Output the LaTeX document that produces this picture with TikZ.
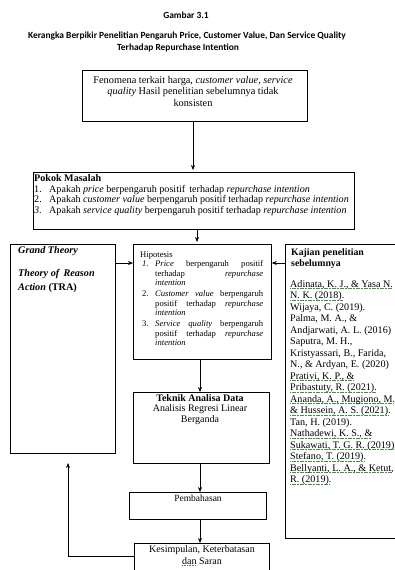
\documentclass[tikz,border=0pt]{standalone}
\usepackage{fontspec}
\setmainfont{Liberation Serif}
\newfontfamily\titlefont{Carlito}
\usetikzlibrary{arrows.meta}
\definecolor{spellgreen}{RGB}{60,150,60}
\newsavebox\gulbox
\newcommand\gul[1]{\leavevmode\sbox\gulbox{#1}\rlap{\raisebox{-1.8pt}{\hbox to \wd\gulbox{\color{spellgreen}\leaders\hbox to 1.6pt{\rule{1.1pt}{0.6pt}\hss}\hfill}}}\usebox\gulbox}
\newcommand\hipline[2]{\makebox[13pt][l]{#1}\makebox[108pt][s]{#2}}
\newcommand\pokline[2]{\makebox[15pt][l]{#1}#2}
\tikzset{
  box/.style={draw, line width=0.8pt, anchor=north west, inner sep=0pt},
  arr/.style={-{Stealth[length=5pt,width=4pt]}, line width=0.6pt},
  txt/.style={anchor=north west, inner sep=0pt, align=left, execute at begin node={\strut}},
  ttl/.style={inner sep=0pt, font=\titlefont\bfseries\fontsize{9.4}{10}\selectfont},
}
\begin{document}
\begin{tikzpicture}[x=1pt,y=-1pt]
\useasboundingbox (0,0) rectangle (395,570);
\clip (0,0) rectangle (395,570);
% titles
\node[ttl] (t1) at (186,15) {Gambar 3.1};
\node[ttl] (t2) at (187,36) {Kerangka Berpikir Penelitian Pengaruh Price, Customer Value, Dan Service Quality};
\node[ttl] (t3) at (178,48) {Terhadap Repurchase Intention};
% Fenomena box
\node[box, minimum width=225pt, minimum height=51pt] (fen) at (82,70) {};
\node[inner sep=0pt, anchor=north, align=center, font=\fontsize{10.3}{11.5}\selectfont] (fent) at (193,76)
 {Fenomena terkait harga, \textit{customer value, service}\\\textit{quality} Hasil penelitian sebelumnya tidak\\konsisten};
% Pokok Masalah
\node[box, minimum width=321pt, minimum height=57pt] (pok) at (33,172) {};
\node[txt, font=\fontsize{10.1}{10.5}\selectfont] (poki) at (34,174.6)
 {\textbf{Pokok Masalah}\\
  \pokline{1.}{Apakah \textit{price} berpengaruh positif\, terhadap \textit{repurchase intention}}\\
  \pokline{2.}{Apakah \textit{customer value} berpengaruh positif terhadap \textit{repurchase intention}}\\
  \pokline{\textit{3.}}{Apakah \textit{service quality} berpengaruh positif terhadap \textit{repurchase intention}}};
% Left box
\node[box, minimum width=105pt, minimum height=209pt] (gt) at (10,244) {};
\node[txt, font=\fontsize{10.2}{13.5}\selectfont] (gtt) at (18,246.5)
 {\textbf{\textit{Grand Theory}}\\[9.5pt]\textbf{\textit{Theory of\, Reason}}\\\textbf{\textit{Action} (TRA)}};
% Hipotesis
\node[box, minimum width=138pt, minimum height=115pt] (hip) at (133,244) {};
\node[inner sep=0pt, anchor=base west, font=\fontsize{8.6}{9}\selectfont] (hipt) at (140,257) {Hipotesis};
\node[txt, font=\fontsize{8.6}{9.5}\selectfont] (hipi) at (142,260.4)
 {\hipline{\textit{1.}}{\textit{Price} berpengaruh positif}\\
  \hipline{}{terhadap \textit{repurchase}}\\
  \hipline{}{\textit{intention}\hfill}\\[1.5pt]
  \hipline{2.}{\textit{Customer value} berpengaruh}\\
  \hipline{}{positif terhadap \textit{repurchase}}\\
  \hipline{}{\textit{intention}\hfill}\\[1.5pt]
  \hipline{3.}{\textit{Service quality} berpengaruh}\\
  \hipline{}{positif terhadap \textit{repurchase}}\\
  \hipline{}{\textit{intention}\hfill}};
% Kajian
\node[box, minimum width=130pt, minimum height=294pt] (kaj) at (285,244) {};
\node[txt, font=\fontsize{9.8}{10.5}\selectfont] (kajt) at (291,248.6) {\textbf{Kajian penelitian}\\\textbf{sebelumnya}};
\node[txt, font=\fontsize{10.1}{11.5}\selectfont] (kajr) at (290,280)
 {\gul{Adinata, K. J., \& Yasa N.}\\\gul{N. K. (2018).}\\Wijaya, C. (2019).\\Palma, M. A., \&\\Andjarwati, A. L. (2016)\\Saputra, M. H.,\\Kristyassari, B., Farida,\\N., \& Ardyan, E. (2020)\\\gul{Prativi, K. P., \&}\\\gul{Pribastuty, R. (2021).}\\\gul{Ananda, A., Mugiono, M.}\\\gul{\& Hussein, A. S. (2021).}\\Tan, H. (2019).\\\gul{Nathadewi, K. S., \&}\\\gul{Sukawati, T. G. R. (2019)}\\\gul{Stefano, T. (2019).}\\\gul{Bellyanti, L. A., \& Ketut,}\\\gul{R. (2019).}};
% Teknik
\node[box, minimum width=136pt, minimum height=71pt] (tek) at (133,392) {};
\node[inner sep=0pt, anchor=north, align=center, font=\fontsize{10}{10.5}\selectfont] (tekt) at (200,394)
 {\textbf{Teknik Analisa Data}\\Analisis Regresi Linear\\Berganda};
% Pembahasan
\node[box, minimum width=137pt, minimum height=27pt] (pem) at (129,492) {};
\node[inner sep=0pt, anchor=north, font=\fontsize{9.5}{10}\selectfont] (pemt) at (198,495) {Pembahasan};
% Kesimpulan
\node[box, minimum width=135pt, minimum height=40pt] (kes) at (134,543) {};
\node[inner sep=0pt, anchor=north, align=center, font=\fontsize{10}{12}\selectfont] (kest) at (202,545)
 {Kesimpulan, Keterbatasan\\\gul{dan} Saran};
% arrows
\draw[arr] (fen.south -| 193,0) -- (193,170);
\draw[arr] (pok.south -| 197,0) -- (197,242);
\draw[arr] (gt.east |- 0,263) -- (hip.west |- 0,263);
\draw[arr] (kaj.west |- 0,263) -- (hip.east |- 0,263);
\draw[arr] (hip.south -| 200,0) -- (tek.north -| 200,0);
\draw[arr] (tek.south -| 200,0) -- (pem.north -| 200,0);
\draw[arr] (pem.south -| 200,0) -- (kes.north -| 200,0);
\coordinate (fb) at (68,463);
\draw[arr] (kes.west |- 0,556) -- (68,556) -- (fb);
\end{tikzpicture}
\end{document}
